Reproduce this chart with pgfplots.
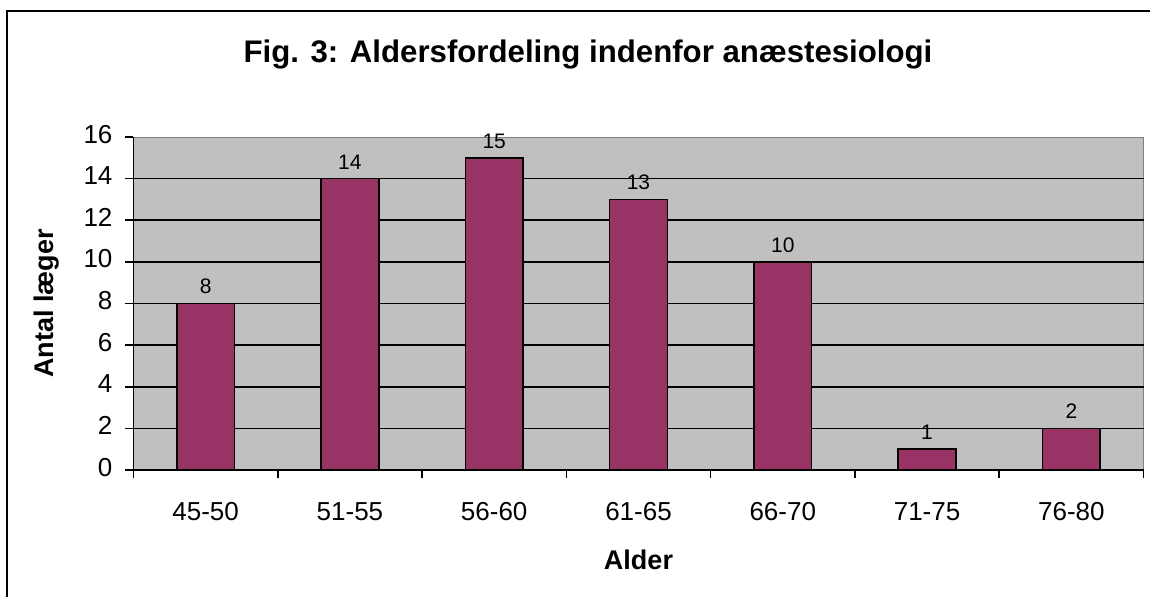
\documentclass[border=0pt]{standalone}
\usepackage{pgfplots}
\pgfplotsset{compat=1.18}
\usepackage{fontspec}
\setmainfont{Liberation Sans}
\definecolor{barc}{HTML}{993366}
\definecolor{bgc}{HTML}{C0C0C0}
\begin{document}
\begin{tikzpicture}
\useasboundingbox (0,0) rectangle (575pt,298pt);
\draw[line width=1pt] (3.5pt,-5pt) |- (590pt,292.5pt);
\begin{axis}[
  at={(66.75pt,63pt)}, anchor=south west,
  scale only axis, width=505pt, height=166.5pt,
  xmin=0.5, xmax=7.5, ymin=0, ymax=16,
  /pgf/number format/assume math mode=true,
  typeset ticklabels with strut,
  axis background/.style={fill=bgc, draw=gray},
  axis x line*=bottom, axis y line*=left,
  axis line style={black, line width=0.8pt, -},
  xtick={1,...,7},
  xticklabels={45-50,51-55,56-60,61-65,66-70,71-75,76-80},
  minor xtick={0.5,1.5,...,7.5},
  major x tick style={draw=none},
  minor x tick style={black, line width=0.8pt},
  minor tick length=4pt,
  ytick={0,2,...,16},
  ytick style={black, line width=0.8pt},
  major tick length=4pt,
  tick align=outside,
  extra y ticks={2,4,...,14},
  extra y tick labels={},
  extra y tick style={grid=major, major tick length=0pt},
  grid style={black, line width=0.8pt},
  tick label style={font=\fontsize{13}{15}\selectfont},
  xticklabel style={yshift=-7pt},
  yticklabel style={xshift=-3pt},
  title={\bfseries Fig. 3: Aldersfordeling indenfor anæstesiologi},
  title style={at={(axis description cs:0.45,1.213)}, anchor=center, font=\fontsize{15.6}{19}\selectfont},
  xlabel={\bfseries Alder},
  xlabel style={at={(axis description cs:0.5,-0.27)}, anchor=center, font=\fontsize{13.5}{16}\selectfont},
  ylabel={\bfseries Antal læger},
  ylabel style={at={(axis description cs:-0.0856,0.5)}, anchor=center, font=\fontsize{13.5}{16}\selectfont},
  ybar, bar width=0.4,
  nodes near coords,
  nodes near coords style={font=\fontsize{10.5}{12}\selectfont, anchor=south, yshift=1pt},
]
\addplot[fill=barc, draw=black, line width=0.8pt] coordinates {
(1,8) (2,14) (3,15) (4,13) (5,10) (6,1) (7,2)
};
\end{axis}
\end{tikzpicture}
\end{document}
